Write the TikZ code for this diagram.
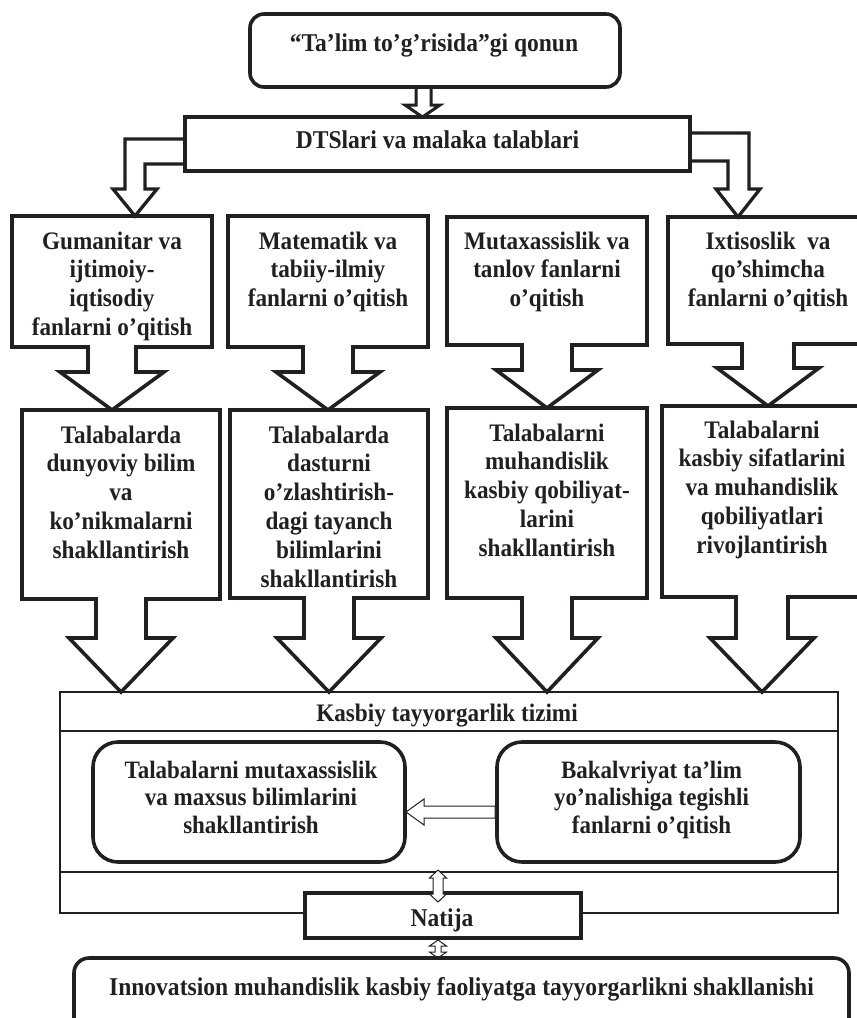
\documentclass[tikz,border=0pt]{standalone}
\usepackage{fontspec}
\setmainfont[FakeStretch=0.92]{Liberation Serif}
\usetikzlibrary{calc}
\definecolor{ink}{RGB}{35,31,32}
\tikzset{
  area/.style={rectangle, inner sep=0pt, outer sep=0pt, anchor=north west},
  thickbox/.style={draw=ink, line width=3.6pt},
  cobox/.style={draw=ink, line width=3.6pt, line join=miter, fill=white},
  bentarrow/.style={draw=ink, line width=3.3pt, line join=miter},
  thinarrow/.style={draw=ink, line width=1pt, fill=white, line join=miter},
  thinline/.style={draw=ink, line width=1.2pt},
  txt/.style={font=\bfseries\fontsize{25.2}{28.8}\selectfont, align=center, inner sep=0pt, text=ink},
  bigtxt/.style={font=\bfseries\fontsize{25.6}{28.8}\selectfont, inner sep=0pt, text=ink},
}
% box with down arrow underneath (Word-like callout)
\newcommand{\calloutbox}[5]{%
  \draw[cobox] let \p1=(#1.north west), \p2=(#1.south east), \p3=(#1.south), \p4=(#2.north) in
  (\x1,\y1) -- (\x2,\y1) -- (\x2,\y2) -- (\x3+#4pt,\y2) -- (\x3+#4pt,\y4+#3pt) -- (\x3+#5pt,\y4+#3pt)
  -- (\x3,\y4) -- (\x3-#5pt,\y4+#3pt) -- (\x3-#4pt,\y4+#3pt) -- (\x3-#4pt,\y2) -- (\x1,\y2) -- cycle;}
\begin{document}
\begin{tikzpicture}[x=1pt,y=-1pt]
\useasboundingbox (0,0) rectangle (857,1018);
\clip (0,0) rectangle (857,1018);

% ---------- top ----------
\node[area, thickbox, rounded corners=14pt, minimum width=370pt, minimum height=73pt] (top) at (250,14) {};
\node[bigtxt, anchor=base] (topt) at ($(top.north)+(-1,37)$) {“Ta’lim to’g’risida”gi qonun};

\node[area, thickbox, minimum width=505pt, minimum height=54pt] (dts) at (185,117) {};
\node[bigtxt, anchor=base] (dtst) at ($(dts.center)+(0,4)$) {DTSlari va malaka talablari};

% double-line arrow top -> dts
\draw[bentarrow, line width=3pt] let \p1=(top.south), \p2=(dts.north) in
  (\x1-19pt,\y1) -- (\x1-19pt,\y2+12pt) -- (\x1-30pt,\y2+12pt) -- (\x1-12.5pt,\y2)
  -- (\x1+5pt,\y2+12pt) -- (\x1-4pt,\y2+12pt) -- (\x1-4pt,\y1);

% ---------- row 1 areas ----------
\node[area, minimum width=200pt, minimum height=131pt] (gum) at (12,216) {};
\node[area, minimum width=200pt, minimum height=131pt] (mat) at (228,216) {};
\node[area, minimum width=200pt, minimum height=128pt] (mut) at (447,217) {};
\node[area, minimum width=200pt, minimum height=127pt] (ixt) at (668,217) {};

% ---------- row 2 areas ----------
\node[area, minimum width=198pt, minimum height=189pt] (tal1) at (22,410) {};
\node[area, minimum width=198pt, minimum height=188pt] (tal2) at (230,410) {};
\node[area, minimum width=200pt, minimum height=190pt] (tal3) at (447,408) {};
\node[area, minimum width=200pt, minimum height=191pt] (tal4) at (662,406) {};

% ---------- system box ----------
\node[area, draw=ink, line width=2.8pt, minimum width=778pt, minimum height=221pt] (kas) at (60,692) {};

% callouts row 1 -> row 2
\calloutbox{gum}{tal1}{38}{24}{52}
\calloutbox{mat}{tal2}{38}{25}{52}
\calloutbox{mut}{tal3}{38}{25}{51}
\calloutbox{ixt}{tal4}{38}{26}{51}
% callouts row 2 -> system box
\calloutbox{tal1}{kas}{54}{25}{52}
\calloutbox{tal2}{kas}{54}{25}{52}
\calloutbox{tal3}{kas}{54}{25}{51}
\calloutbox{tal4}{kas}{54}{26}{52}

% bent arrows from DTS
\draw[bentarrow] let \p1=(dts.west), \p2=(gum.north) in
  (\x1,\y1+5pt) -- (\x2+13pt,\y1+5pt) -- (\x2+13pt,\y2+27pt) -- (\x2+1pt,\y2+27pt) -- (\x2+23pt,\y2)
  -- (\x2+45pt,\y2+27pt) -- (\x2+33pt,\y2+27pt) -- (\x2+33pt,\y1-20pt) -- (\x1,\y1-20pt);
\draw[bentarrow] let \p1=(dts.east), \p2=(ixt.north) in
  (\x1,\y1+11pt) -- (\x2-19pt,\y1+11pt) -- (\x2-19pt,\y2+28pt) -- (\x2-8pt,\y2+28pt) -- (\x2-30pt,\y2)
  -- (\x2-52pt,\y2+28pt) -- (\x2-40pt,\y2+28pt) -- (\x2-40pt,\y1-17pt) -- (\x1,\y1-17pt);

% texts row 1
\node[txt, anchor=north] (gumt) at ([yshift=-15.5pt]gum.north) {Gumanitar va\\ijtimoiy-\\iqtisodiy\\fanlarni o’qitish};
\node[txt, anchor=north] (matt) at ([yshift=-15.5pt]mat.north) {Matematik va\\tabiiy-ilmiy\\fanlarni o’qitish};
\node[txt, anchor=north] (mutt) at ([yshift=-14.5pt]mut.north) {Mutaxassislik va\\tanlov fanlarni\\o’qitish};
\node[txt, anchor=north] (ixtt) at ([yshift=-14.5pt]ixt.north) {Ixtisoslik\ \ va\\qo’shimcha\\fanlarni o’qitish};

% texts row 2
\node[txt, anchor=north] (tal1t) at ([yshift=-15.5pt]tal1.north) {Talabalarda\\dunyoviy bilim\\va\\ko’nikmalarni\\shakllantirish};
\node[txt, anchor=north] (tal2t) at ([yshift=-15.5pt]tal2.north) {Talabalarda\\dasturni\\o’zlashtirish-\\dagi tayanch\\bilimlarini\\shakllantirish};
\node[txt, anchor=north] (tal3t) at ([yshift=-15.5pt]tal3.north) {Talabalarni\\muhandislik\\kasbiy qobiliyat-\\larini\\shakllantirish};
\node[txt, anchor=north] (tal4t) at ([yshift=-14.5pt]tal4.north) {Talabalarni\\kasbiy sifatlarini\\va muhandislik\\qobiliyatlari\\rivojlantirish};

% system box contents
\draw[thinline] ($(kas.north west)+(0,39)$) -- ($(kas.north east)+(0,39)$);
\draw[thinline] ($(kas.south west)+(0,-41)$) -- ($(kas.south east)+(0,-41)$);
\node[txt, anchor=base] (kast) at ($(kas.north)+(-2,29)$) {Kasbiy tayyorgarlik tizimi};

\node[area, thickbox, rounded corners=25pt, minimum width=312pt, minimum height=120pt] (inl) at (93,742) {};
\node[area, thickbox, rounded corners=25pt, minimum width=303pt, minimum height=120pt] (inr) at (497,742) {};
\node[txt, anchor=north, font=\bfseries\fontsize{25}{27.6}\selectfont] (inlt) at ($(inl.north)+(2,18.5)$) {Talabalarni mutaxassislik\\va maxsus bilimlarini\\shakllantirish};
\node[txt, anchor=north, font=\bfseries\fontsize{25}{27.6}\selectfont] (inrt) at ($(inr.north)+(3,18.5)$) {Bakalvriyat ta’lim\\yo’nalishiga tegishli\\fanlarni o’qitish};

% arrow inr -> inl
\draw[thinarrow] let \p1=(inr.west), \p2=(inl.east) in
  (\x1-2pt,\y1-4pt) -- (\x2+19pt,\y1-4pt) -- (\x2+19pt,\y1+3pt) -- (\x2+1pt,\y1-10pt)
  -- (\x2+19pt,\y1-23pt) -- (\x2+19pt,\y1-16pt) -- (\x1-2pt,\y1-16pt) -- cycle;

% Natija
\node[area, thickbox, fill=white, minimum width=276pt, minimum height=45pt] (nat) at (305,893) {};
\node[bigtxt, anchor=base] (natt) at ($(nat.center)+(-1,10.5)$) {Natija};

% double arrows
\draw[thinarrow] let \p1=($(nat.north)+(-5,0)$) in
  (\x1,\y1+23pt) -- (\x1+8.5pt,\y1+15pt) -- (\x1+5pt,\y1+15pt) -- (\x1+5pt,\y1-1pt) -- (\x1+8.5pt,\y1-1pt)
  -- (\x1,\y1-9pt) -- (\x1-8.5pt,\y1-1pt) -- (\x1-5pt,\y1-1pt) -- (\x1-5pt,\y1+15pt) -- (\x1-8.5pt,\y1+15pt) -- cycle;
\draw[thinarrow] let \p1=($(nat.south)+(-5,0)$) in
  (\x1,\y1-2pt) -- (\x1+8.5pt,\y1-8pt) -- (\x1+3pt,\y1-8pt) -- (\x1+3pt,\y1-14pt) -- (\x1+8.5pt,\y1-14pt)
  -- (\x1,\y1-20pt) -- (\x1-8.5pt,\y1-14pt) -- (\x1-3pt,\y1-14pt) -- (\x1-3pt,\y1-8pt) -- (\x1-8.5pt,\y1-8pt) -- cycle;

% bottom box
\node[area, thickbox, rounded corners=15pt, minimum width=775pt, minimum height=80pt] (bot) at (74,958) {};
\node[bigtxt, anchor=base] (bott) at ($(bot.north)+(0,37)$) {Innovatsion muhandislik kasbiy faoliyatga tayyorgarlikni shakllanishi};
\end{tikzpicture}
\end{document}
